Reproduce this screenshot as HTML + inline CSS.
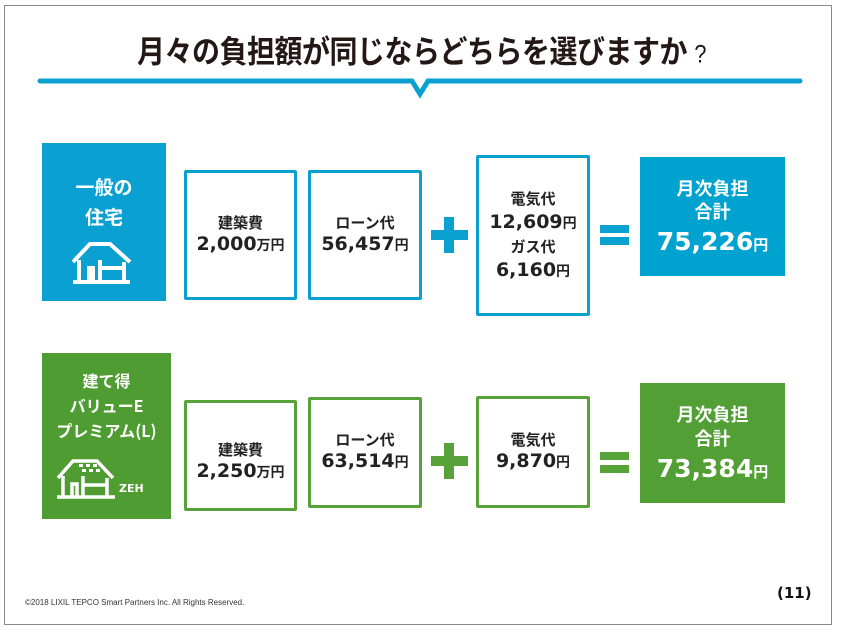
<!DOCTYPE html>
<html><head><meta charset="utf-8"><style>
*{margin:0;padding:0;box-sizing:border-box}
body{width:843px;height:636px;background:#fff;position:relative;overflow:hidden;font-family:"DejaVu Sans","Noto Sans CJK JP",sans-serif;color:#222}
.a{position:absolute}
.frame{left:4px;top:5px;width:828px;height:620px;border:1.5px solid #8a8a8a}
.title{left:0;width:843px;top:30px;text-align:center;font-family:"Liberation Sans","Noto Sans CJK JP",sans-serif;font-weight:bold;font-size:28px;color:#231815;transform:scaleY(1.12);letter-spacing:-0.5px}
.box{border:3px solid;border-radius:2px;display:flex;flex-direction:column;justify-content:center;align-items:center;text-align:center;font-weight:bold;line-height:1.25}
.b{border-color:#0aa0d0}.g{border-color:#58a23a}
.lab{font-family:"Noto Sans CJK JP",sans-serif;font-size:15px;font-weight:bold}
.num{font-size:19px;font-weight:bold}
.num small{font-size:14px;font-family:"Noto Sans CJK JP",sans-serif}
.res{color:#fff;display:flex;flex-direction:column;align-items:center;justify-content:center;text-align:center;font-weight:bold}
.res .lab{font-size:18px;line-height:1.3}
.res .num{font-size:25px;margin-top:4px}
.res .num small{font-size:15px}
.side{color:#fff;font-family:"Noto Sans CJK JP",sans-serif;font-weight:bold;text-align:center}
</style></head><body>
<div class="a frame"></div>
<div class="a title">月々の負担額が同じならどちらを選びますか <span style="font-weight:normal;font-size:22px">?</span></div>
<svg class="a" style="left:0;top:0" width="843" height="110">
<path d="M40 81 H412 L420 94 L428 81 H800" stroke="#0aa0d0" stroke-width="5" fill="none" stroke-linecap="round"/>
</svg>

<!-- row 1 -->
<div class="a" style="left:42px;top:143px;width:124px;height:158px;background:#0aa0d2"></div>
<div class="a side" style="left:42px;top:172px;width:124px;font-size:19px;line-height:30px">一般の<br>住宅</div>
<svg class="a" style="left:70px;top:240px" width="64" height="46"><g fill="none" stroke="#fff" stroke-width="4"><path d="M3 22 L20 4 H40 L60 22"/><path d="M9 20 V40 M19 40 V28 H23 V40 M30 20 V40 M54 22 V40 M30 28 H54 M3 42 H60"/></g></svg>

<div class="a box b" style="left:184px;top:170px;width:113px;height:130px"><div class="lab">建築費</div><div class="num">2,000<small>万円</small></div></div>
<div class="a box b" style="left:308px;top:170px;width:114px;height:130px"><div class="lab">ローン代</div><div class="num">56,457<small>円</small></div></div>
<div class="a" style="left:431px;top:230px;width:37px;height:10px;background:#0aa0d0"></div>
<div class="a" style="left:444px;top:217px;width:10px;height:36px;background:#0aa0d0"></div>
<div class="a box b" style="left:476px;top:155px;width:114px;height:161px;line-height:1.4"><div class="lab">電気代</div><div class="num">12,609<small>円</small></div><div class="lab">ガス代</div><div class="num">6,160<small>円</small></div></div>
<div class="a" style="left:600px;top:225px;width:29px;height:8px;background:#0aa0d0"></div>
<div class="a" style="left:600px;top:237px;width:29px;height:8px;background:#0aa0d0"></div>
<div class="a res" style="left:640px;top:157px;width:145px;height:119px;background:#00a3d0"><div class="lab">月次負担<br>合計</div><div class="num">75,226<small>円</small></div></div>

<!-- row 2 -->
<div class="a" style="left:42px;top:353px;width:129px;height:166px;background:#4f9d32"></div>
<div class="a side" style="left:42px;top:368px;width:129px;font-size:16px;line-height:25px">建て得<br>バリューE<br>プレミアム(L)</div>
<svg class="a" style="left:55px;top:458px" width="110" height="42"><g fill="none" stroke="#fff" stroke-width="3.5"><path d="M3 20 L18 3 H42 L58 20"/><path d="M8 18 V38 M17 38 V26 H22 V38 M28 18 V38 M52 20 V38 M28 27 H52 M2 39 H60"/></g><g fill="#fff"><rect x="24" y="6" width="4" height="3"/><rect x="31" y="6" width="4" height="3"/><rect x="38" y="6" width="4" height="3"/><rect x="27" y="11" width="4" height="3"/><rect x="34" y="11" width="4" height="3"/><rect x="41" y="11" width="4" height="3"/></g><text x="64" y="34" fill="#fff" font-family="DejaVu Sans" font-weight="bold" font-size="11">ZEH</text></svg>

<div class="a box g" style="left:184px;top:400px;width:113px;height:111px"><div class="lab" style="margin-top:14px">建築費</div><div class="num">2,250<small>万円</small></div></div>
<div class="a box g" style="left:308px;top:397px;width:114px;height:111px"><div class="lab">ローン代</div><div class="num">63,514<small>円</small></div></div>
<div class="a" style="left:431px;top:456px;width:37px;height:10px;background:#58a23a"></div>
<div class="a" style="left:444px;top:443px;width:10px;height:36px;background:#58a23a"></div>
<div class="a box g" style="left:476px;top:396px;width:114px;height:112px"><div class="lab">電気代</div><div class="num">9,870<small>円</small></div></div>
<div class="a" style="left:600px;top:452px;width:29px;height:8px;background:#58a23a"></div>
<div class="a" style="left:600px;top:465px;width:29px;height:8px;background:#58a23a"></div>
<div class="a res" style="left:640px;top:383px;width:145px;height:120px;background:#52a035"><div class="lab">月次負担<br>合計</div><div class="num">73,384<small>円</small></div></div>

<div class="a" style="left:25px;top:598px;font-size:8px;font-family:'Liberation Sans',sans-serif;color:#333">©2018 LIXIL TEPCO Smart Partners Inc. All Rights Reserved.</div>
<div class="a" style="left:777px;top:584px;font-size:15px;font-weight:bold;color:#111">(11)</div>
</body></html>
